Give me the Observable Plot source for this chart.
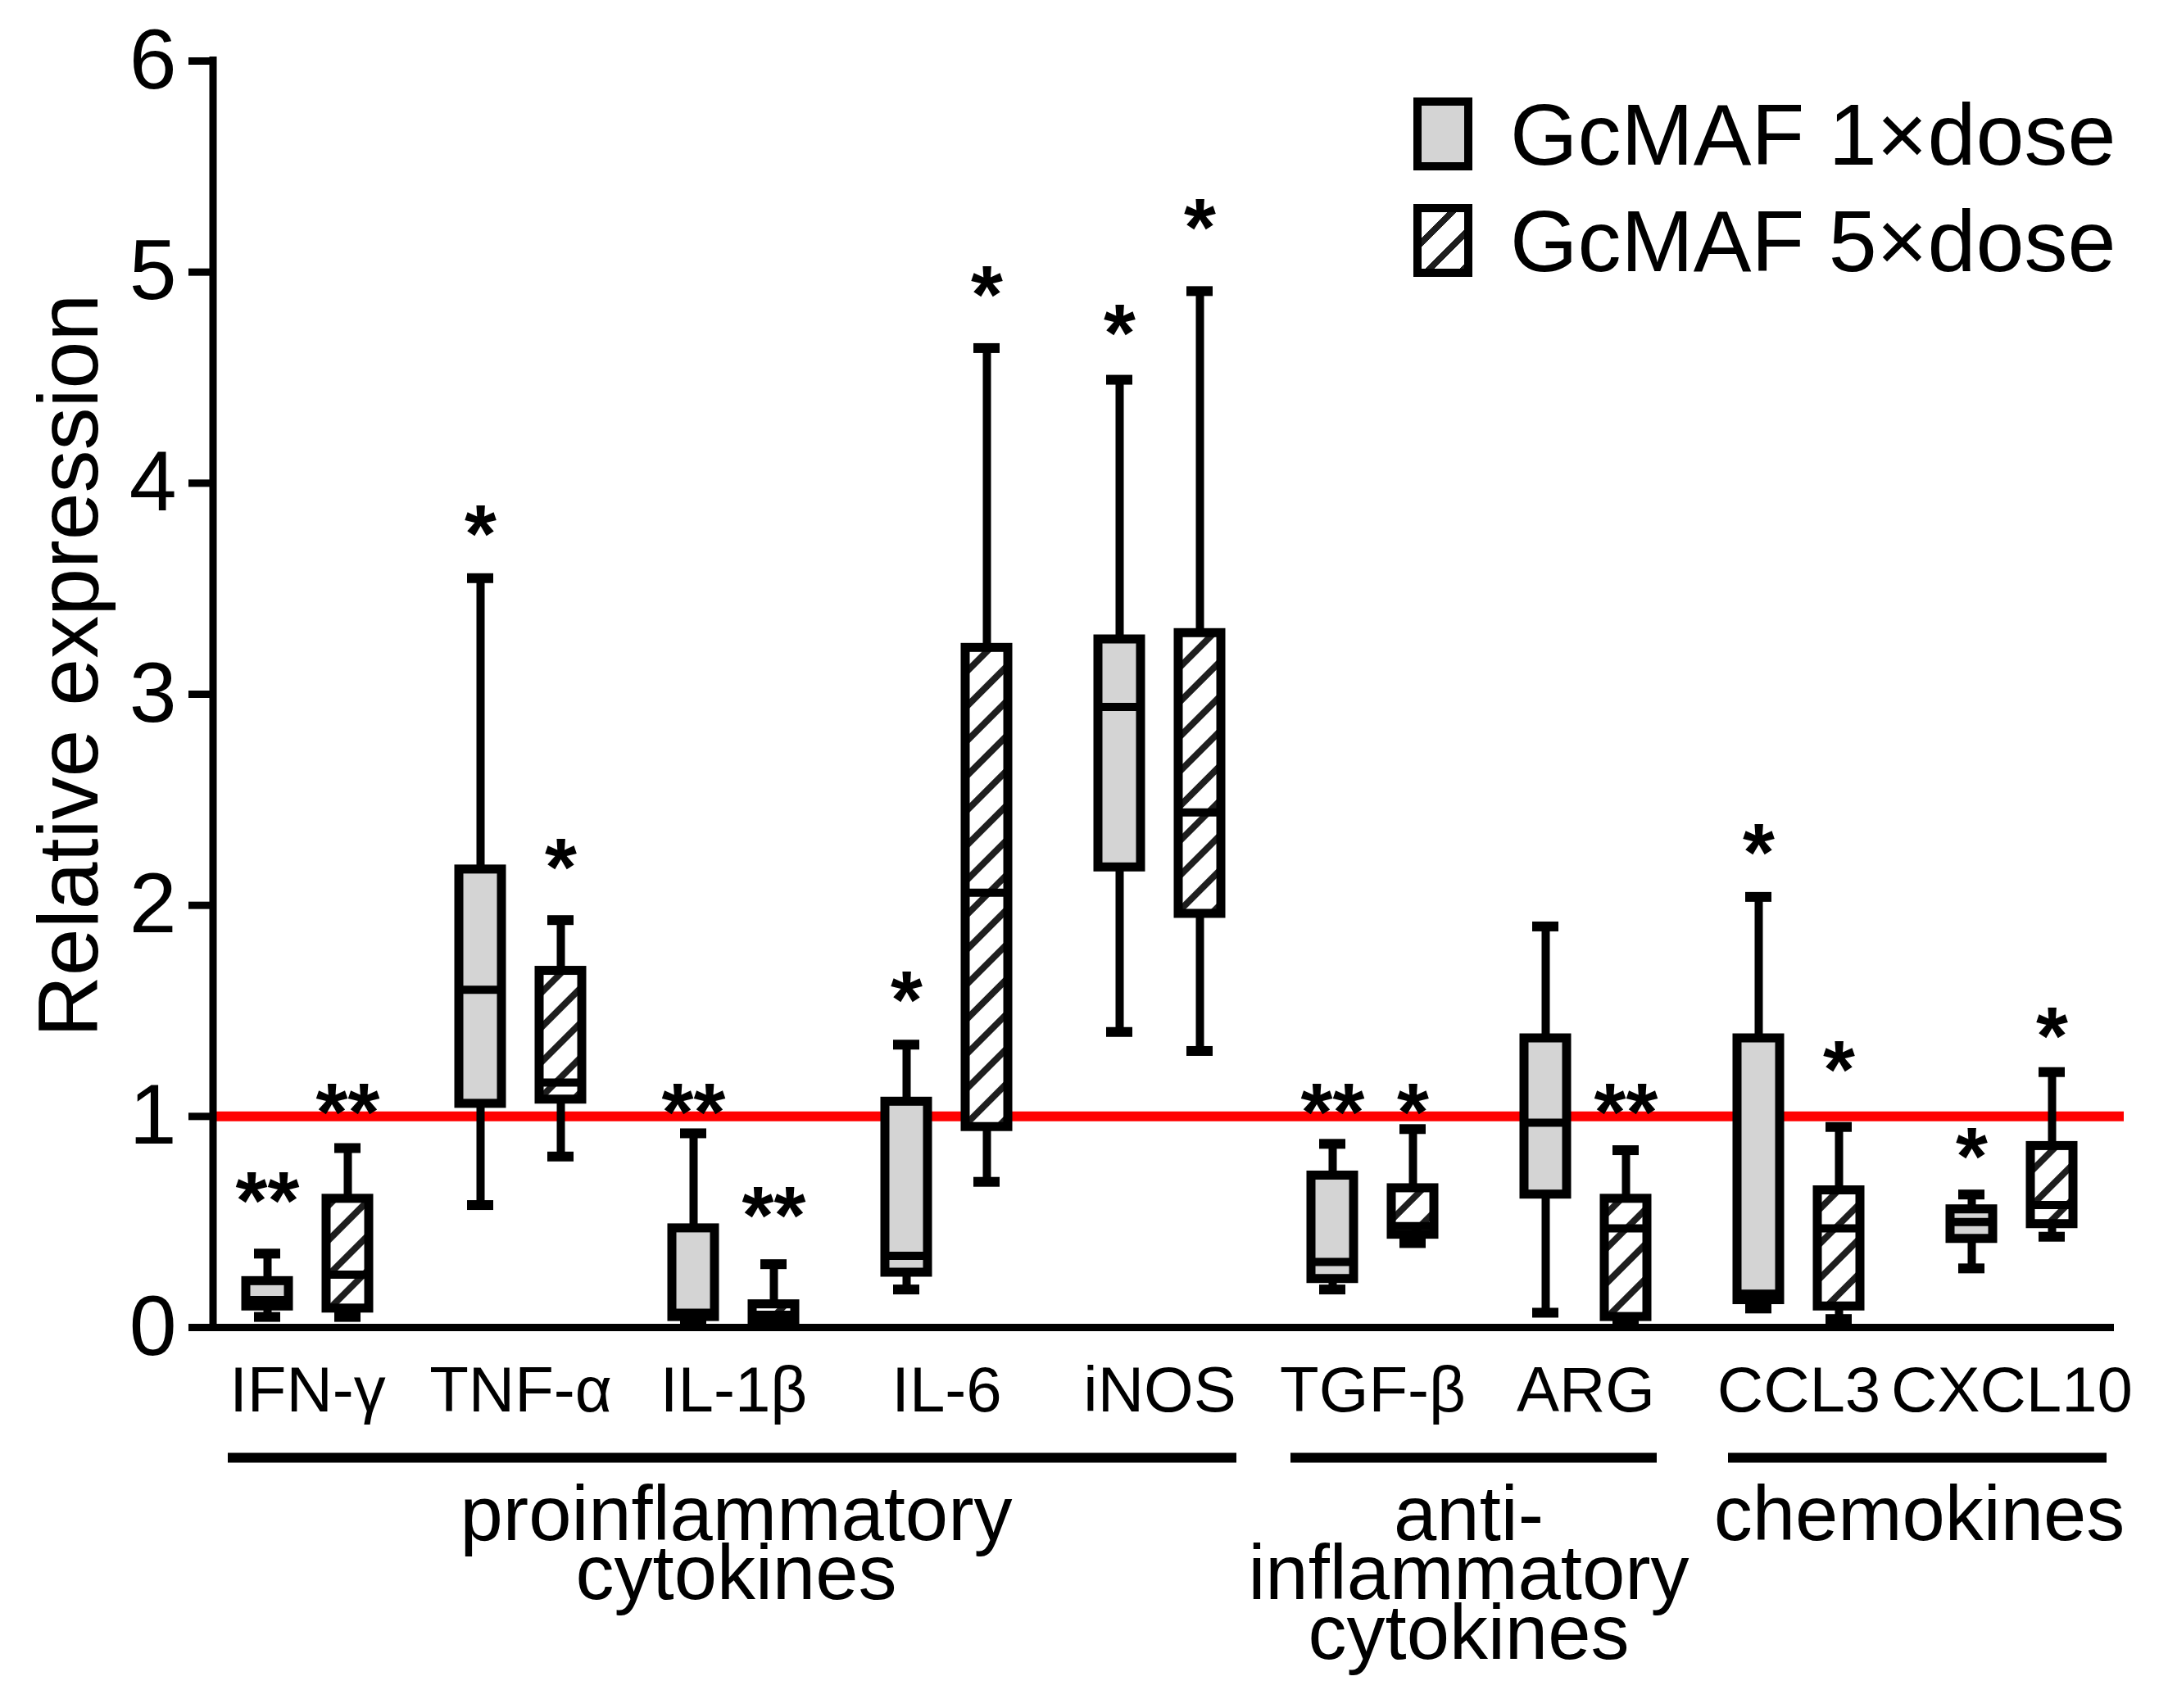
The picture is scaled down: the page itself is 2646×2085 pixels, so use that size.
<!DOCTYPE html>
<html>
<head>
<meta charset="utf-8">
<script src="https://cdn.jsdelivr.net/npm/d3@7"></script>
<script src="https://cdn.jsdelivr.net/npm/@observablehq/plot@0.6"></script>
<style>
  html, body { margin: 0; padding: 0; background: #fff; }
  #wrap { position: relative; width: 2646px; height: 2085px; font-family: 'Liberation Sans', Arial, sans-serif; }
  .leg-sw { position: absolute; width: 52px; height: 69px; border: 10px solid #000; }
  .leg-tx { position: absolute; font-size: 106px; line-height: 106px; white-space: nowrap; color: #000; }
</style>
</head>
<body>
<div id="wrap"></div>
<script>
// ---------- data ----------
const categories = ["IFN-γ", "TNF-α", "IL-1β", "IL-6", "iNOS", "TGF-β", "ARG", "CCL3", "CXCL10"];
const doseNames = ["GcMAF 1×dose", "GcMAF 5×dose"];
const yTicks = [0, 1, 2, 3, 4, 5, 6];

// GcMAF 1×dose : whisker low, Q1, median, Q3, whisker high
const low1    = [0.05, 0.58, 0.02, 0.18, 1.40, 0.18, 0.07, 0.09, 0.28];
const q1_1    = [0.10, 1.06, 0.05, 0.26, 2.18, 0.23, 0.63, 0.13, 0.42];
const median1 = [0.13, 1.60, 0.07, 0.34, 2.94, 0.31, 0.97, 0.16, 0.50];
const q3_1    = [0.22, 2.17, 0.47, 1.07, 3.26, 0.72, 1.37, 1.37, 0.56];
const high1   = [0.35, 3.55, 0.92, 1.34, 4.49, 0.87, 1.90, 2.04, 0.63];
const sig1    = ["**", "*", "**", "*", "*", "**", "", "*", "*"];
const sigY1   = [0.67, 3.83, 1.09, 1.62, 4.78, 1.09, null, 2.32, 0.88];

// GcMAF 5×dose
const low5    = [0.05, 0.81, 0.01, 0.69, 1.31, 0.40, 0.02, 0.04, 0.43];
const q1_5    = [0.09, 1.08, 0.03, 0.95, 1.96, 0.44, 0.05, 0.10, 0.49];
const median5 = [0.25, 1.16, 0.06, 2.06, 2.44, 0.48, 0.47, 0.47, 0.58];
const q3_5    = [0.61, 1.69, 0.11, 3.22, 3.29, 0.66, 0.61, 0.65, 0.86];
const high5   = [0.85, 1.93, 0.30, 4.64, 4.91, 0.94, 0.84, 0.95, 1.21];
const sig5    = ["**", "*", "**", "*", "*", "*", "**", "*", "*"];
const sigY5   = [1.09, 2.25, 0.60, 4.96, 5.28, 1.09, 1.09, 1.29, 1.45];

const referenceLevel = 1;

const groupLabels = ["proinflammatory\ncytokines", "anti-\ninflammatory\ncytokines", "chemokines"];
const groupFirst  = ["IFN-γ", "TGF-β", "CCL3"];
const groupLast   = ["iNOS", "ARG", "CXCL10"];

const yTitle = "Relative expression";

// ---------- tables ----------
function table(low, q1, med, q3, high, sig, sigY) {
  return categories.map((c, i) => ({cat: c, low: low[i], q1: q1[i], median: med[i], q3: q3[i], high: high[i], sig: sig[i], sigY: sigY[i]}));
}
const rows1 = table(low1, q1_1, median1, q3_1, high1, sig1, sigY1);
const rows5 = table(low5, q1_5, median5, q3_5, high5, sig5, sigY5);
const groups = groupLabels.map((g, i) => ({label: g, first: groupFirst[i], last: groupLast[i]}));

// ---------- layout ----------
const W = 2646, H = 2085;
const step = 260;          // band width
const boxOff = 49;         // box centre offset from band centre
const boxHalf = 26;
const capHalf = 16;
const bandMid = step / 2;

function doseMarks(rows, side, fill) {
  const c = bandMid + side * boxOff;
  const boxIn = {insetLeft: c - boxHalf, insetRight: step - (c + boxHalf)};
  const capIn = {insetLeft: c - capHalf, insetRight: step - (c + capHalf)};
  return [
    Plot.ruleX(rows, {x: "cat", y1: "low", y2: "high", dx: side * boxOff, stroke: "#000", strokeWidth: 10}),
    Plot.tickY(rows, {x: "cat", y: "low", ...capIn, stroke: "#000", strokeWidth: 12}),
    Plot.tickY(rows, {x: "cat", y: "high", ...capIn, stroke: "#000", strokeWidth: 12}),
    Plot.barY(rows, {x: "cat", y1: "q1", y2: "q3", ...boxIn, fill, stroke: "#000", strokeWidth: 11}),
    Plot.tickY(rows, {x: "cat", y: "median", ...boxIn, stroke: "#000", strokeWidth: 10}),
    Plot.text(rows.filter(d => d.sig), {x: "cat", y: "sigY", text: "sig", dx: side * boxOff, dy: 52,
      lineAnchor: "bottom", fontSize: 100, fontWeight: "bold", fill: "#000"})
  ];
}

function yAxisLine(index, scales, values, dims) {
  const ns = "http://www.w3.org/2000/svg";
  const l = document.createElementNS(ns, "line");
  const x = dims.marginLeft;
  l.setAttribute("x1", x); l.setAttribute("x2", x);
  l.setAttribute("y1", scales.y(6) - 5); l.setAttribute("y2", scales.y(0) + 5);
  l.setAttribute("stroke", "#000"); l.setAttribute("stroke-width", 9);
  return l;
}

const groupDx = groups.map((g, i) => (categories.indexOf(g.last) - categories.indexOf(g.first)) * step / 2 + [3, -13, 17][i]);
const groupInsets = [[33, 36], [30, 43], [44, 14]];

const plot = Plot.plot({
  width: W,
  height: H,
  marginLeft: 260,
  marginRight: 66,
  marginTop: 74,
  marginBottom: 465,
  style: {fontFamily: "'Liberation Sans', Arial, sans-serif", color: "#000", background: "#fff", overflow: "visible"},
  x: {type: "band", domain: categories, range: [245, 2585], padding: 0},
  y: {domain: [0, 6]},
  marks: [
    Plot.ruleY([referenceLevel], {stroke: "#ff0000", strokeWidth: 12, insetRight: -12}),
    ...doseMarks(rows1, -1, "#d4d4d4"),
    ...doseMarks(rows5, 1, "url(#hatch)"),
    Plot.ruleY([0], {stroke: "#000", strokeWidth: 9}),
    yAxisLine,
    Plot.axisY({ticks: yTicks, tickFormat: d3.format("d"), tickSize: 30, tickPadding: 15, fontSize: 104, strokeWidth: 9, label: null}),
    Plot.axisX({tickSize: 0, tickPadding: 47, fontSize: 78, label: null}),
    Plot.text([yTitle], {frameAnchor: "left", text: d => d, rotate: -90, dx: -142, dy: -35,
      lineAnchor: "bottom", textAnchor: "middle", fontSize: 104, fill: "#000"}),
    ...groups.map((g, i) => Plot.ruleY([g], {y: 0, x1: "first", x2: "last", dy: 159,
      insetLeft: groupInsets[i][0], insetRight: groupInsets[i][1], stroke: "#000", strokeWidth: 12})),
    ...groups.map((g, i) => Plot.text([g], {x: "first", y: 0, text: "label", dx: groupDx[i], dy: 208,
      lineAnchor: "top", lineHeight: 0.77, fontSize: 94, fill: "#000"}))
  ]
});

// hatch pattern definition
const ns = "http://www.w3.org/2000/svg";
const defs = document.createElementNS(ns, "defs");
defs.innerHTML = `<pattern id="hatch" patternUnits="userSpaceOnUse" width="30" height="30" patternTransform="rotate(45)">
  <rect x="0" y="0" width="30" height="30" fill="#fff"></rect>
  <rect x="0" y="0" width="8" height="30" fill="#1e1e1e"></rect>
</pattern>`;
plot.insertBefore(defs, plot.firstChild);

const wrap = document.getElementById("wrap");
wrap.appendChild(plot);

// legend (HTML overlay inside plot area)
const legendSwatches = [
  {bg: "#d4d4d4", top: 119},
  {bg: "repeating-linear-gradient(135deg, #fff 0px, #fff 22px, #1e1e1e 22px, #1e1e1e 30px)", top: 249}
];
doseNames.forEach((name, i) => {
  const sw = document.createElement("div");
  sw.className = "leg-sw";
  sw.style.left = "1725px";
  sw.style.top = legendSwatches[i].top + "px";
  sw.style.background = legendSwatches[i].bg;
  wrap.appendChild(sw);
  const tx = document.createElement("div");
  tx.className = "leg-tx";
  tx.style.left = "1843px";
  tx.style.top = (legendSwatches[i].top - 8) + "px";
  tx.textContent = name;
  wrap.appendChild(tx);
});
</script>
</body>
</html>
